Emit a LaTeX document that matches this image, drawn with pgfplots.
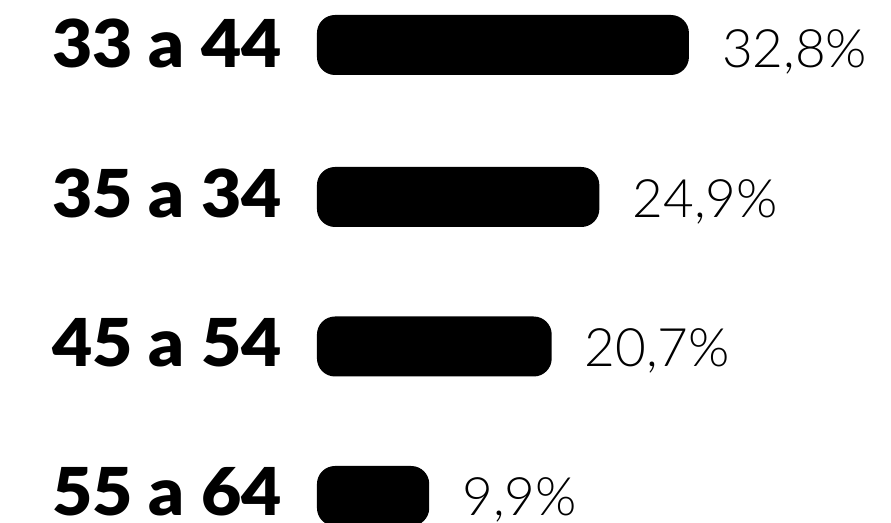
\documentclass[border=0pt]{standalone}
\usepackage{pgfplots}
\pgfplotsset{compat=1.18}
\usepackage{pgfplotstable}
\usepackage{fontspec}
\setmainfont{Lato}
\newfontfamily\labelfont{Lato Black}[FakeStretch=1.055]
\newfontfamily\pctfont{Lato Light}
\pgfplotstableread[col sep=comma]{
val,pos,base,pct,label
32.8,478,455,{32,8\%},33 a 44
24.9,326,305,{24,9\%},35 a 34
20.7,176.5,156,{20,7\%},45 a 54
9.9,27,8,{9,9\%},55 a 64
}\bars
\begin{document}
\begin{tikzpicture}
\begin{axis}[
  scale only axis, width=891bp, height=523bp,
  xmin=-27.95, xmax=50.62, ymin=0, ymax=523,
  hide axis, clip mode=individual,
]
\addplot[xbar, fill=black, draw=none, bar width=60bp, rounded corners=18bp]
  table[x=val, y=pos]{\bars};
\addplot[draw=none, mark=none,
  nodes near coords, point meta=explicit symbolic,
  nodes near coords style={anchor=base west, xshift=33bp, font=\pctfont\fontsize{53bp}{53bp}\selectfont, text=black, inner sep=0pt}]
  table[x=val, y=base, meta=pct]{\bars};
\addplot[draw=none, mark=none,
  nodes near coords, point meta=explicit symbolic,
  nodes near coords style={anchor=base east, xshift=-35bp, font=\labelfont\fontsize{66bp}{66bp}\selectfont, text=black, inner sep=0pt}]
  table[y=base, meta=label, x expr=0]{\bars};
\end{axis}
\pgfresetboundingbox
\useasboundingbox (current axis.south west) rectangle (current axis.north east);
\end{tikzpicture}
\end{document}
